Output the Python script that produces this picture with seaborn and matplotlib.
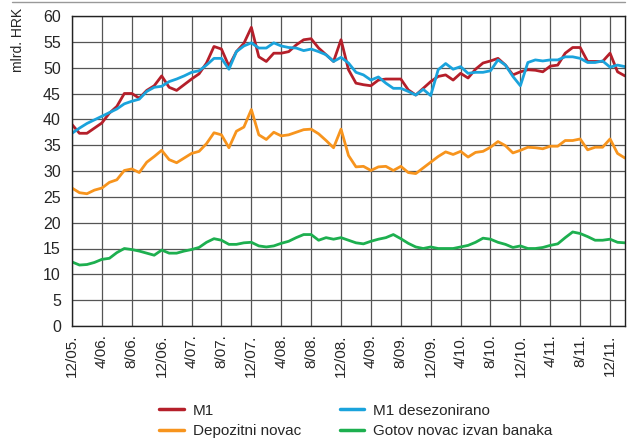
import matplotlib
matplotlib.use("Agg")
import matplotlib.pyplot as plt
import matplotlib.lines as mlines
import pandas as pd
import seaborn as sns

# monthly values, 12/2005 .. 2/2012 (bn HRK)
m1 = [39.0, 37.3, 37.3, 38.3, 39.3, 41.2, 42.5, 45.0, 45.0, 44.1,
      45.6, 46.5, 48.4, 46.2, 45.6, 46.7, 47.8, 48.8, 50.9, 54.1,
      53.6, 50.3, 53.1, 54.7, 57.8, 52.1, 51.2, 52.8, 52.8, 53.1,
      54.4, 55.4, 55.6, 53.8, 52.5, 51.2, 55.4, 49.6, 47.0, 46.7,
      46.5, 47.6, 47.8, 47.8, 47.8, 45.7, 44.7, 46.0, 47.3, 48.3,
      48.6, 47.6, 48.9, 48.0, 49.7, 50.9, 51.3, 51.8, 50.5, 48.6,
      49.2, 49.6, 49.5, 49.2, 50.3, 50.5, 52.8, 53.9, 53.9, 51.2,
      51.2, 51.2, 52.8, 49.2, 48.4]
m1_sa = [37.3, 38.3, 39.2, 39.9, 40.6, 41.3, 42.0, 43.0, 43.5, 43.9,
         45.4, 46.2, 46.4, 47.3, 47.8, 48.4, 49.1, 49.4, 50.5, 51.8,
         51.8, 49.7, 53.1, 54.2, 54.8, 53.8, 53.8, 54.8, 54.2, 53.9,
         53.8, 53.3, 53.6, 53.1, 52.5, 51.2, 52.0, 50.9, 49.1, 48.6,
         47.6, 48.2, 47.0, 46.0, 46.0, 45.4, 44.7, 45.8, 44.6, 49.6,
         50.8, 49.7, 50.2, 48.9, 49.1, 49.1, 49.4, 51.5, 50.5, 48.3,
         46.5, 51.0, 51.5, 51.3, 51.5, 51.5, 52.1, 52.1, 51.8, 51.0,
         51.0, 51.3, 50.1, 50.5, 50.2]
depoziti = [26.7, 25.8, 25.6, 26.3, 26.7, 27.8, 28.3, 30.1, 30.4, 29.7,
            31.7, 32.8, 34.0, 32.2, 31.6, 32.5, 33.4, 33.8, 35.3, 37.4,
            37.0, 34.5, 37.7, 38.5, 41.9, 37.0, 36.1, 37.5, 36.8, 37.0,
            37.5, 38.0, 38.1, 37.2, 35.9, 34.5, 38.1, 33.0, 30.8, 30.9,
            30.1, 30.8, 30.9, 30.1, 30.9, 29.7, 29.5, 30.6, 31.7, 32.8,
            33.7, 33.2, 33.8, 32.7, 33.6, 33.8, 34.6, 35.7, 34.9, 33.5,
            34.0, 34.6, 34.5, 34.3, 34.8, 34.8, 35.9, 35.9, 36.2, 34.1,
            34.6, 34.6, 36.2, 33.4, 32.5]
gotovina = [12.4, 11.8, 11.9, 12.3, 12.9, 13.1, 14.2, 15.0, 14.8, 14.5,
            14.1, 13.7, 14.7, 14.1, 14.1, 14.5, 14.8, 15.2, 16.2, 16.9,
            16.6, 15.8, 15.8, 16.1, 16.2, 15.5, 15.3, 15.5, 16.0, 16.4,
            17.1, 17.7, 17.7, 16.6, 17.1, 16.8, 17.1, 16.6, 16.1, 15.9,
            16.4, 16.8, 17.1, 17.7, 16.9, 16.0, 15.3, 15.0, 15.3, 15.0,
            15.0, 15.0, 15.3, 15.6, 16.2, 17.0, 16.8, 16.2, 15.8, 15.2,
            15.5, 15.0, 15.0, 15.2, 15.6, 15.9, 17.1, 18.2, 17.9, 17.3,
            16.6, 16.6, 16.8, 16.2, 16.1]

tick_labels = ["12/05.", "4/06.", "8/06.", "12/06.", "4/07.", "8/07.", "12/07.",
               "4/08.", "8/08.", "12/08.", "4/09.", "8/09.", "12/09.", "4/10.",
               "8/10.", "12/10.", "4/11.", "8/11.", "12/11."]

names = ["M1", "Depozitni novac", "M1 desezonirano", "Gotov novac izvan banaka"]
series = [m1, depoziti, m1_sa, gotovina]
colors = ["#b51f2a", "#f7941d", "#1aa3dc", "#1daf4f"]

rows = []
for name, vals in zip(names, series):
    for i, v in enumerate(vals):
        rows.append({"mjesec": i, "vrijednost": v, "serija": name})
df = pd.DataFrame(rows)

sns.set_style("white")
plt.rcParams["font.family"] = ["Liberation Sans Narrow", "Liberation Sans", "DejaVu Sans"]

fig = plt.figure(figsize=(6.28, 4.43), dpi=100)
ax = fig.add_axes([72 / 628, 1 - 326 / 443, 553 / 628, 310 / 443])

sns.lineplot(data=df, x="mjesec", y="vrijednost", hue="serija",
             hue_order=names, palette=colors, linewidth=2.0, ax=ax, legend=False)

ax.set_xlim(0, 74)
ax.set_ylim(0, 60)
ax.set_yticks(range(0, 61, 5))
ax.set_xticks(range(0, 73, 4))
ax.set_xticklabels(tick_labels, rotation=90, fontsize=11)
ax.tick_params(axis="y", labelsize=11.5, length=0, pad=8)
ax.tick_params(axis="x", length=0, pad=6)
ax.set_xlabel("")
ax.set_ylabel("")
ax.grid(True, color="#555555", linewidth=0.9)
ax.set_axisbelow(True)
for s in ax.spines.values():
    s.set_color("#222222")
    s.set_linewidth(1.0)

fig.text(18 / 628, 1 - 40 / 443, "mlrd. HRK", rotation=90, ha="center",
         va="center", fontsize=10)

# thin frame line at the top of the figure
fig.add_artist(mlines.Line2D([12 / 628, 625 / 628], [1 - 1.5 / 443, 1 - 1.5 / 443],
                             color="#999999", linewidth=1.0))

handles = [mlines.Line2D([], [], color=c, linewidth=2.5) for c in colors]
fig.legend(handles, names, ncol=2, loc="center", frameon=False,
           bbox_to_anchor=(356 / 628, 1 - 421 / 443), fontsize=11,
           handlelength=1.6, columnspacing=2.5, handletextpad=0.6,
           labelspacing=0.45)

fig.savefig("out.png", dpi=100)
